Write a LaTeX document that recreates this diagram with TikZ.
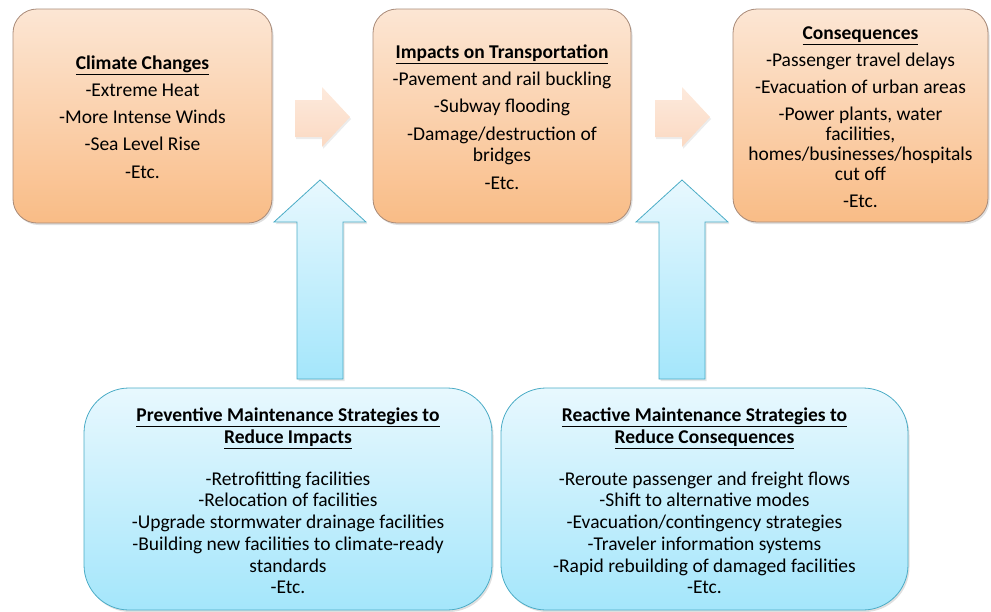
\documentclass[tikz,border=0pt]{standalone}
\usepackage{fontspec}
\setmainfont{Carlito}
\usetikzlibrary{shadows}
\definecolor{orTop}{HTML}{FCE6D4}
\definecolor{orBot}{HTML}{F9BC86}
\definecolor{orLine}{HTML}{A88A78}
\definecolor{blTop}{HTML}{E8F8FE}
\definecolor{blBot}{HTML}{A4E6FB}
\definecolor{blLine}{HTML}{4BACC6}
\definecolor{pchTop}{HTML}{FDEADD}
\definecolor{pchBot}{HTML}{FBD9C2}
\tikzset{
  obox/.style={draw=orLine, line width=0.8pt, rounded corners=24pt, top color=orTop, bottom color=orBot,
    drop shadow={opacity=0.25, shadow xshift=1.5pt, shadow yshift=-2pt}},
  bbox/.style={draw=blLine, line width=0.8pt, rounded corners=45pt, top color=blTop, bottom color=blBot,
    drop shadow={opacity=0.25, shadow xshift=1.5pt, shadow yshift=-2pt}},
  txt/.style={align=center, font=\fontsize{19.5}{21.7}\selectfont, inner sep=0pt},
  uparr/.style={draw=blLine, line width=0.8pt, top color=blTop, bottom color=blBot,
    drop shadow={opacity=0.2, shadow xshift=1.5pt, shadow yshift=-2pt}},
  rarr/.style={top color=pchTop, bottom color=pchBot, draw=none,
    drop shadow={opacity=0.15, shadow xshift=1pt, shadow yshift=-2pt}},
}
\begin{document}
\begin{tikzpicture}[x=1pt,y=-1pt]
\useasboundingbox (0,0) rectangle (991,611);
% orange boxes
\path[obox] (13,9) rectangle (272,223);
\path[obox] (373,9) rectangle (631,223);
\path[obox] (733,9) rectangle (988,222);
\node[txt] (t1) at (142.5,117) {\textbf{\underline{Climate Changes}}\\[5.5pt]-Extreme Heat\\[5.5pt]-More Intense Winds\\[5.5pt]-Sea Level Rise\\[5.5pt]-Etc.};
\node[txt] (t2) at (502,117) {\textbf{\underline{Impacts on Transportation}}\\[5.5pt]-Pavement and rail buckling\\[5.5pt]-Subway flooding\\[5.5pt]-Damage/destruction of\\bridges\\[5.5pt]-Etc.};
\node[txt, font=\fontsize{19.5}{20}\selectfont] (t3) at (860.5,117) {\textbf{\underline{Consequences}}\\[7pt]-Passenger travel delays\\[7pt]-Evacuation of urban areas\\[7pt]-Power plants, water\\facilities,\\homes/businesses/hospitals\\cut off\\[7pt]-Etc.};
% right arrows
\path[rarr] (295,100) -- (322,100) -- (322,87) -- (350,117) -- (322,147) -- (322,137) -- (295,137) -- cycle;
\path[rarr] (655,100) -- (682,100) -- (682,87) -- (710,117) -- (682,147) -- (682,137) -- (655,137) -- cycle;
% up arrows
\path[uparr] (297,379) -- (297,222) -- (274,222) -- (320,180) -- (366,222) -- (343,222) -- (343,379) -- cycle;
\path[uparr] (659,379) -- (659,222) -- (636,222) -- (682,180) -- (728,222) -- (705,222) -- (705,379) -- cycle;
% blue boxes
\path[bbox] (84,388) rectangle (492,610);
\path[bbox] (501,388) rectangle (908,610);
\node[txt] (t4) at (288,501) {\textbf{\underline{Preventive Maintenance Strategies to}}\\\textbf{\underline{Reduce Impacts}}\\[20pt]-Retrofitting facilities\\-Relocation of facilities\\-Upgrade stormwater drainage facilities\\-Building new facilities to climate-ready\\standards\\-Etc.};
\node[txt] (t5) at (704.5,501) {\textbf{\underline{Reactive Maintenance Strategies to}}\\\textbf{\underline{Reduce Consequences}}\\[20pt]-Reroute passenger and freight flows\\-Shift to alternative modes\\-Evacuation/contingency strategies\\-Traveler information systems\\-Rapid rebuilding of damaged facilities\\-Etc.};
\end{tikzpicture}
\end{document}
